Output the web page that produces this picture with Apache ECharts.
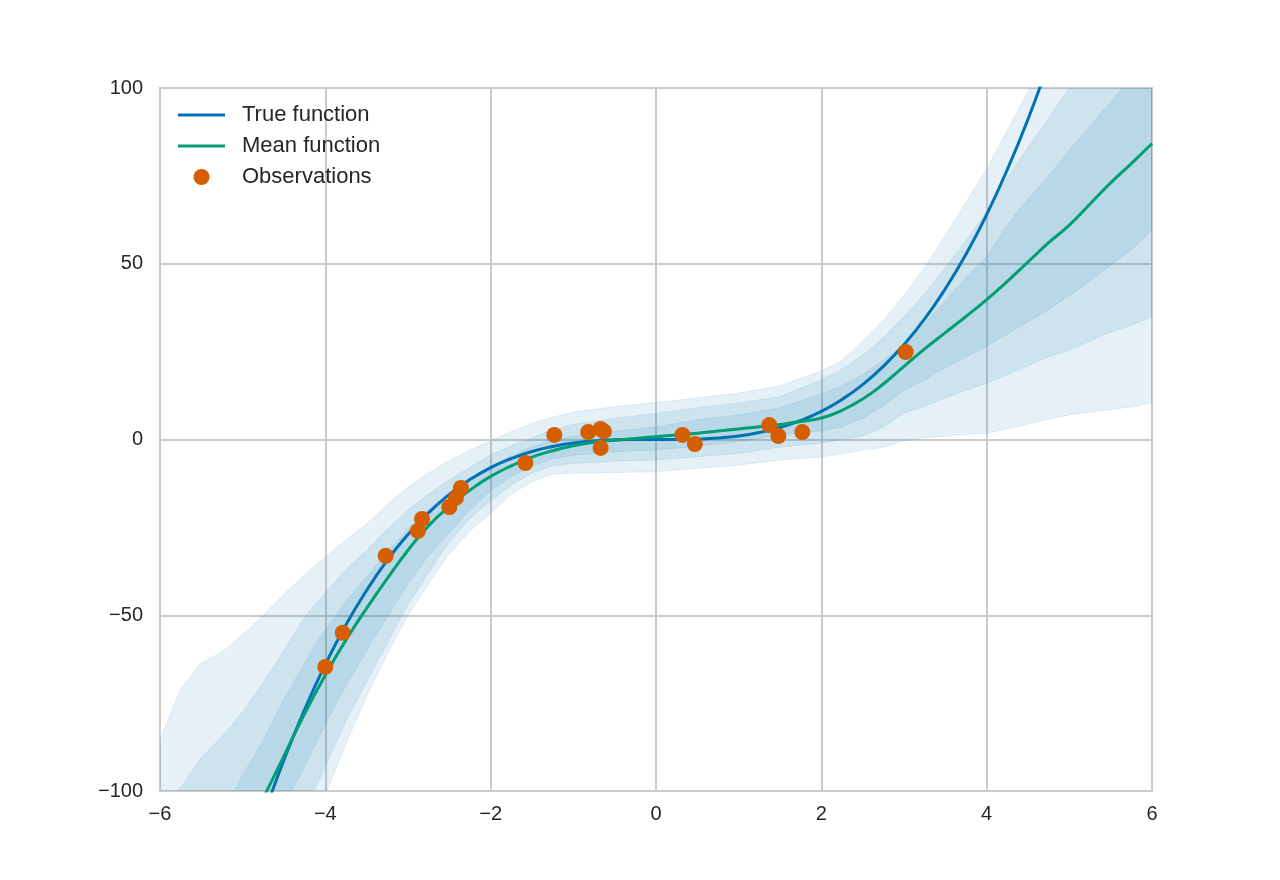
<!DOCTYPE html>
<html>
<head>
<meta charset="utf-8">
<title>GP fit</title>
<script src="https://cdn.jsdelivr.net/npm/echarts/dist/echarts.min.js"></script>
<style>
    html, body { margin: 0; padding: 0; background: #ffffff; }
    #chart1 { width: 1280px; height: 880px; }
</style>
</head>
<body>
<div id="chart1"></div>
<script>
// x grid shared by the three uncertainty bands
var bandX = [-6, -5.75, -5.5, -5.25, -5, -4.75, -4.5, -4.25, -4, -3.75, -3.5, -3.25, -3, -2.75, -2.5, -2.25, -2, -1.75, -1.5, -1.25, -1, -0.5, 0, 0.5, 1, 1.5, 2, 2.25, 2.5, 2.75, 3, 3.25, 3.5, 3.75, 4, 4.25, 4.5, 4.75, 5, 5.25, 5.5, 5.75, 6]

var outerHi = [-85.5, -71, -63.5, -60.5, -55.5, -50, -44, -38.5, -33.5, -28.5, -24, -18.5, -13.5, -9.5, -6, -3, -0.3, 2.3, 4.6, 6.3, 7.8, 9.3, 10.5, 11.8, 13.2, 15.2, 19.5, 22.5, 28, 34, 41, 49, 58, 67.5, 77, 88, 99, 111, 123, 135, 147, 159, 171]
var outerLo = [-230, -215, -200, -186, -172, -158, -144, -125, -101, -86.5, -73, -61, -50, -41, -32.5, -26, -21, -15.5, -12, -9.8, -9.6, -9.4, -9.2, -8.2, -7.3, -5.8, -5, -4, -3, -2.2, -0.3, 0.5, 1, 1.4, 1.8, 3, 4.4, 5.8, 7, 7.8, 8.5, 9.3, 10.4]

var middleHi = [-108, -99, -90.5, -84.5, -77.5, -69, -60, -50.5, -43.5, -37, -31.5, -25.5, -20, -15.5, -11.5, -7.8, -4.4, -1.8, 0.5, 2.8, 4.3, 6, 7.4, 9, 10.4, 12.2, 17, 20, 24, 29, 35, 41.5, 49, 56.5, 65, 74.5, 83, 91.5, 100, 108, 116, 124, 132]
var middleLo = [-190, -178, -166, -154, -142, -130, -118, -106, -93, -80, -69, -58, -47, -38, -29, -22.5, -17.5, -13, -9.5, -7.5, -6.8, -6.2, -5.8, -4.9, -3.9, -2.2, -1, 0, 1, 3.5, 7.5, 9.5, 11.8, 14, 16, 18.5, 21, 23.5, 25.5, 28, 30.5, 32.5, 34.9]

var innerHi = [-130, -122, -115, -107, -95.5, -85.5, -74, -63.5, -54, -46, -39, -32, -25.5, -20, -15, -11, -7.7, -4.6, -2, -0.2, 0.9, 2.3, 3.6, 5.6, 7, 9, 13, 15.3, 18.5, 22.5, 27, 33, 39.5, 46, 52, 61, 68.5, 75, 82.5, 89, 96, 103, 110]
var innerLo = [-175, -163, -150, -138, -126, -114, -104, -93, -81, -70, -60, -50.5, -41, -33, -26.5, -20, -14.5, -10.5, -7.5, -5.5, -4.5, -3.5, -3, -1.9, -0.6, 1.3, 2.5, 3.6, 6, 9.5, 14, 17, 20.5, 23.5, 26.5, 30, 33.5, 37, 41, 45, 49.5, 54, 59.6]

// true function and posterior mean
var lineX = [-4.75, -4.5, -4.25, -4, -3.75, -3.5, -3.25, -3, -2.75, -2.5, -2.25, -2, -1.75, -1.5, -1.25, -1, -0.75, -0.5, -0.25, 0, 0.25, 0.5, 0.75, 1, 1.25, 1.5, 1.75, 2, 2.25, 2.5, 2.75, 3, 3.25, 3.5, 3.75, 4, 4.25, 4.5, 4.75]
var trueY = [-107.2, -91.1, -76.8, -64, -52.7, -42.9, -34.3, -27, -20.8, -15.6, -11.4, -8, -5.4, -3.4, -2, -1, -0.4, -0.1, 0, 0, 0, 0.1, 0.4, 1, 2, 3.4, 5.4, 8, 11.4, 15.6, 20.8, 27, 34.3, 42.9, 52.7, 64, 76.8, 91.1, 107.2]

var meanX = [-4.75, -4.5, -4.25, -4, -3.75, -3.5, -3.25, -3, -2.75, -2.5, -2.25, -2, -1.75, -1.5, -1.25, -1, -0.75, -0.5, -0.25, 0, 0.25, 0.5, 0.75, 1, 1.25, 1.5, 1.75, 2, 2.25, 2.5, 2.75, 3, 3.25, 3.5, 3.75, 4, 4.25, 4.5, 4.75, 5, 5.25, 5.5, 5.75, 6]
var meanY = [-102, -90, -78, -67, -57, -48, -39.5, -31.5, -24.5, -19, -14.4, -10.5, -7.5, -5, -3.2, -1.8, -0.8, -0.2, 0.3, 0.8, 1.3, 1.8, 2.4, 3, 3.6, 4.3, 5.1, 6.1, 8.3, 11.5, 15.8, 20.8, 25.8, 30.4, 35, 39.8, 45, 50.5, 56, 61, 67, 73, 78.5, 84.2]

// observations
var obsX = [-4.00, -3.79, -3.27, -2.88, -2.83, -2.50, -2.42, -2.36, -1.58, -1.23, -0.82, -0.67, -0.63, -0.67, 0.32, 0.47, 1.37, 1.48, 1.77, 3.02]
var obsY = [-64.7, -55.0, -33.1, -26.0, -22.6, -19.2, -16.6, -13.8, -6.7, 1.3, 2.1, 3.0, 2.3, -2.4, 1.3, -1.3, 4.1, 1.0, 2.1, 24.9]

var xTicks = { min: -6, max: 6, interval: 2 }
var yTicks = { min: -100, max: 100, interval: 50 }

var fontName = "'Liberation Sans', Arial, sans-serif"
var bandFill = 'rgba(0,114,178,0.1)'
var gridGray = '#cbcbcb'
// flat bar used as legend key for the two lines
var lineIcon = 'path://M0,0 L47,0 L47,3 L0,3 Z'

var pairs = function (xs, ys) {
    var out = []
    for (var i = 0; i < xs.length; i++) {
        out.push([xs[i], ys[i]])
    }
    return out
}

var minusLabel = function (v) {
    return v < 0 ? '\u2212' + Math.abs(v) : String(v)
}

// one filled polygon per band, drawn once through the grid's coord()
var bandSeries = function (name, lo, hi) {
    var rows = []
    for (var i = 0; i < bandX.length; i++) {
        rows.push([bandX[i], lo[i], hi[i]])
    }
    return {
        name: name,
        type: 'custom',
        clip: true,
        silent: true,
        z: 1,
        encode: { x: 0, y: [1, 2] },
        data: rows,
        renderItem: function (params, api) {
            if (params.dataIndex !== 0) return null
            var pts = []
            for (var i = 0; i < rows.length; i++) {
                pts.push(api.coord([rows[i][0], rows[i][2]]))
            }
            for (var j = rows.length - 1; j >= 0; j--) {
                pts.push(api.coord([rows[j][0], rows[j][1]]))
            }
            return {
                type: 'polygon',
                shape: { points: pts },
                style: { fill: bandFill, stroke: bandFill, lineWidth: 1 }
            }
        }
    }
}

var chart1_func = function () {
    var chart1 = echarts.init(document.getElementById('chart1'))
    var option = {
        animation: false,
        backgroundColor: '#ffffff',
        textStyle: { fontFamily: fontName },
        grid: {
            left: 160,
            right: 128,
            top: 88,
            bottom: 89,
            show: true,
            borderColor: gridGray,
            borderWidth: 2,
            containLabel: false
        },
        legend: {
            orient: 'vertical',
            left: 178,
            top: 104,
            padding: 0,
            itemWidth: 47,
            itemHeight: 16,
            itemGap: 9,
            symbolKeepAspect: true,
            textStyle: { fontSize: 22, color: '#262626', fontFamily: fontName, lineHeight: 22, padding: [0, 0, 0, 12] },
            data: [
                { name: 'True function', icon: lineIcon },
                { name: 'Mean function', icon: lineIcon },
                { name: 'Observations', icon: 'circle' }
            ]
        },
        xAxis: {
            type: 'value',
            min: xTicks.min,
            max: xTicks.max,
            interval: xTicks.interval,
            axisLine: { show: false },
            axisTick: { show: false },
            axisLabel: { formatter: minusLabel, fontSize: 20, color: '#262626', margin: 13, fontFamily: fontName },
            splitLine: { show: true, lineStyle: { color: gridGray, width: 2 } }
        },
        yAxis: {
            type: 'value',
            min: yTicks.min,
            max: yTicks.max,
            interval: yTicks.interval,
            axisLine: { show: false },
            axisTick: { show: false },
            axisLabel: { formatter: minusLabel, fontSize: 20, color: '#262626', margin: 17, fontFamily: fontName },
            splitLine: { show: true, lineStyle: { color: gridGray, width: 2 } }
        },
        series: [
            bandSeries('outer', outerLo, outerHi),
            bandSeries('middle', middleLo, middleHi),
            bandSeries('inner', innerLo, innerHi),
            {
                name: 'True function',
                type: 'line',
                z: 3,
                smooth: true,
                symbol: 'none',
                showSymbol: false,
                color: '#0072B2',
                lineStyle: { color: '#0072B2', width: 3 },
                data: pairs(lineX, trueY)
            },
            {
                name: 'Mean function',
                type: 'line',
                z: 4,
                smooth: true,
                symbol: 'none',
                showSymbol: false,
                color: '#009E73',
                lineStyle: { color: '#009E73', width: 3 },
                data: pairs(meanX, meanY)
            },
            {
                name: 'Observations',
                type: 'scatter',
                z: 5,
                symbol: 'circle',
                symbolSize: 16,
                itemStyle: { color: '#D55E00', opacity: 1 },
                data: pairs(obsX, obsY)
            }
        ]
    }
    chart1.setOption(option)
    window.addEventListener('resize', function () {
        chart1.resize()
    })
}

window.onload = function () {
    chart1_func()
}
</script>
</body>
</html>
